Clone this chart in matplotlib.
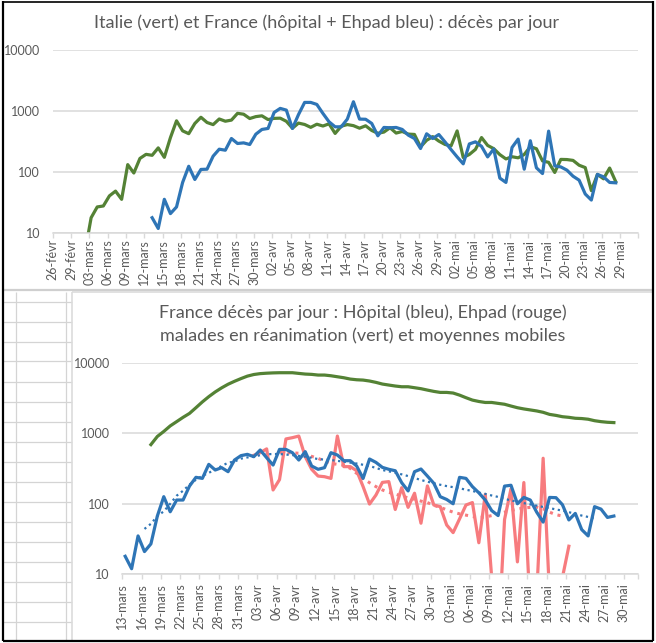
import numpy as np
import matplotlib
matplotlib.use('Agg')
import matplotlib.pyplot as plt
from matplotlib.lines import Line2D
from matplotlib.ticker import NullLocator

plt.rcParams['font.family'] = ['Lato', 'DejaVu Sans']

W, H = 656, 643

# ==== graphique du haut (jour 0 = 26-févr) ====================================
top_labels = ['26-févr', '29-févr', '03-mars', '06-mars', '09-mars', '12-mars',
              '15-mars', '18-mars', '21-mars', '24-mars', '27-mars', '30-mars',
              '02-avr', '05-avr', '08-avr', '11-avr', '14-avr', '17-avr',
              '20-avr', '23-avr', '26-avr', '29-avr', '02-mai', '05-mai',
              '08-mai', '11-mai', '14-mai', '17-mai', '20-mai', '23-mai',
              '26-mai', '29-mai']

italie_start = 5
italie = [5, 18, 27, 28, 41, 49, 36, 133, 97, 168, 196, 189, 250, 175, 368, 694,
          475, 427, 627, 793, 651, 601, 743, 683, 712, 919, 889, 756, 812, 837,
          727, 760, 766, 681, 525, 636, 604, 542, 610, 570, 619, 431, 566, 602,
          578, 525, 575, 482, 433, 454, 534, 437, 464, 420, 415, 260, 333, 382,
          323, 285, 269, 474, 174, 195, 236, 369, 274, 243, 194, 165, 179, 172,
          195, 262, 242, 153, 145, 99, 162, 161, 156, 130, 119, 50, 92, 78,
          117, 70]

france_start = 16
france_total = [18, 12, 36, 21, 27, 68, 125, 76, 111, 112, 183, 238, 229, 356,
                295, 302, 284, 419, 501, 520, 951, 1107, 1038, 520, 880, 1387,
                1387, 1286, 916, 668, 553, 553, 740, 1422, 740, 735, 628, 394,
                540, 534, 540, 501, 404, 356, 244, 425, 356, 414, 314, 235, 178,
                137, 290, 314, 265, 178, 240, 80, 68, 254, 348, 112, 327, 118,
                95, 470, 127, 122, 108, 86, 74, 44, 35, 92, 84, 68, 67]

# ==== graphique du bas (jour 0 = 13-mars) =====================================
bot_labels = ['13-mars', '16-mars', '19-mars', '22-mars', '25-mars', '28-mars',
              '31-mars', '03-avr', '06-avr', '09-avr', '12-avr', '15-avr',
              '18-avr', '21-avr', '24-avr', '27-avr', '30-avr', '03-mai',
              '06-mai', '09-mai', '12-mai', '15-mai', '18-mai', '21-mai',
              '24-mai', '27-mai', '30-mai']

hopital_start = 0
hopital = [18, 12, 35, 21, 27, 67, 126, 77, 113, 113, 178, 237, 229, 362, 301,
           325, 285, 417, 481, 502, 465, 578, 450, 354, 590, 590, 530, 417, 548,
           343, 308, 325, 530, 491, 408, 408, 343, 229, 431, 386, 328, 308, 294,
           199, 152, 285, 311, 247, 195, 126, 115, 100, 237, 229, 175, 143, 113,
           80, 68, 178, 183, 100, 123, 113, 76, 55, 123, 122, 97, 59, 73, 43, 35,
           91, 84, 64, 67]

hopital_mm_start = 3
hopital_mm = [44, 52, 67, 78, 100, 130, 153, 187, 219, 249, 274, 308, 343, 382,
              397, 436, 454, 464, 489, 504, 507, 507, 498, 490, 477, 465, 448,
              430, 423, 417, 406, 395, 383, 372, 357, 343, 322, 301, 288, 276,
              261, 247, 232, 217, 206, 195, 186, 178, 172, 166, 158, 152, 144,
              138, 131, 125, 118, 111, 107, 102, 98, 94, 90, 87, 83, 80, 76, 72,
              68, 65, 62]

ehpad_start = 20
ehpad = [486, 530, 600, 157, 220, 830, 865, 912, 465, 308, 247, 242, 229, 912,
         336, 336, 294, 175, 99, 133, 201, 206, 83, 169, 89, 141, 53, 179, 96,
         91, 50, 39, 61, 96, 104, 28, 136, 9, 1, 60, 163, 15, 200, 3, 5, 442, 5,
         1, 9, 25]

ehpad_mm_start = 24
ehpad_mm = [540, 530, 528, 520, 497, 470, 440, 403, 374, 362, 351, 318, 270, 227,
            199, 175, 157, 145, 137, 129, 121, 116, 109, 104, 95, 89, 82, 76, 72,
            69, 66, 64, 65, 68, 72, 76, 80, 84, 87, 89, 90, 85, 76, 70, 67]

rea_start = 4
rea = [690, 900, 1060, 1270, 1460, 1680, 1910, 2300, 2780, 3300, 3850, 4400,
       4950, 5450, 5950, 6450, 6800, 7000, 7100, 7170, 7210, 7210, 7210, 7050,
       6900, 6830, 6680, 6680, 6530, 6320, 6120, 5860, 5730, 5670, 5500, 5260,
       4980, 4820, 4670, 4560, 4560, 4420, 4280, 4090, 3920, 3790, 3790, 3715,
       3470, 3190, 2950, 2820, 2730, 2730, 2650, 2575, 2430, 2300, 2210, 2140,
       2070, 1980, 1850, 1790, 1715, 1680, 1630, 1615, 1580, 1505, 1460, 1430,
       1415]

BLUE = '#2e75b6'
GREEN = '#548235'
RED = '#f77b7e'
TXT = '#595959'
GRID = '#d9d9d9'
CELL = '#d4d4d4'


def fx(x):
    return x / W


def fy(y):
    return 1 - y / H


def fline(fig, xs, ys, color, lw):
    fig.add_artist(Line2D([fx(v) for v in xs], [fy(v) for v in ys],
                          color=color, lw=lw, transform=fig.transFigure,
                          solid_capstyle='butt'))


def xs_of(start, values, offset):
    return start + np.arange(len(values)) + offset


def style(ax, xmax, labels, pad):
    ax.set_yscale('log')
    ax.set_ylim(10, 10000)
    ax.set_xlim(0, xmax)
    ax.set_yticks([10, 100, 1000, 10000])
    ax.set_yticklabels(['10', '100', '1000', '10000'])
    ax.yaxis.set_minor_locator(NullLocator())
    ax.xaxis.set_minor_locator(NullLocator())
    pos = list(np.arange(len(labels)) * 3) + [xmax]
    ax.set_xticks(pos)
    ax.set_xticklabels(labels + [''], rotation=90, va='top', ha='center')
    ax.grid(axis='y', color=GRID, lw=1.1)
    ax.set_axisbelow(True)
    for s in ['top', 'right', 'left']:
        ax.spines[s].set_visible(False)
    ax.spines['bottom'].set_color(GRID)
    ax.spines['bottom'].set_linewidth(1.1)
    ax.tick_params(axis='y', length=0, pad=9, labelsize=9, labelcolor=TXT)
    ax.tick_params(axis='x', length=3.5, width=1, color=GRID, pad=pad,
                   labelsize=9, labelcolor=TXT)
    ax.patch.set_alpha(0)


fig = plt.figure(figsize=(W / 100, H / 100), dpi=100)
fig.patch.set_facecolor('white')

# cellules Excel à gauche du graphique du bas
for y in np.arange(301.5, 640, 20):
    fline(fig, [3, 72], [y, y], CELL, 0.9)
fline(fig, [15.5, 15.5], [292, 640], CELL, 0.9)
fline(fig, [65.5, 65.5], [292, 640], CELL, 0.9)

# bordures des graphiques
fline(fig, [3, 653], [290, 290], '#cfcfcf', 1.6)
fline(fig, [72, 653], [292, 292], '#dcdcdc', 1.2)
fline(fig, [72, 72], [292, 640], '#dcdcdc', 1.2)
# cadre noir
fline(fig, [3, 3], [1, 641], 'black', 1.6)
fline(fig, [652.5, 652.5], [1, 641], 'black', 1.6)
fline(fig, [3, 653], [640.5, 640.5], 'black', 1.6)
fline(fig, [3, 653], [1.5, 1.5], 'black', 1.2)

# ---- haut -----------------------------------------------------------------
ax1 = fig.add_axes([fx(52.7), fy(233.3), fx(638.3) - fx(52.7),
                    fy(50) - fy(233.3)])
style(ax1, 96, top_labels, 0.5)
ax1.plot(xs_of(italie_start, italie, 0.3), italie, color=GREEN, lw=2.3,
         solid_joinstyle='round')
ax1.plot(xs_of(france_start, france_total, 0.3), france_total, color=BLUE,
         lw=2.3, solid_joinstyle='round')
fig.text(fx(327), fy(23), 'Italie (vert) et France (hôpital + Ehpad bleu) : '
         'décès par jour', ha='center', va='center', fontsize=13, color=TXT)

# ---- bas ------------------------------------------------------------------
ax2 = fig.add_axes([fx(122.3), fy(574.3), fx(638.3) - fx(122.3),
                    fy(362.7) - fy(574.3)])
style(ax2, 80.25, bot_labels, 3)
ax2.plot(xs_of(rea_start, rea, 0.45), rea, color=GREEN, lw=2.3,
         solid_joinstyle='round')
ax2.plot(xs_of(ehpad_start, ehpad, 0.45), ehpad, color=RED, lw=2.3,
         solid_joinstyle='round')
ax2.plot(xs_of(ehpad_mm_start, ehpad_mm, 0.45), ehpad_mm, color=RED, lw=2.2,
         linestyle=(0, (1, 1.6)))
ax2.plot(xs_of(hopital_mm_start, hopital_mm, 0.45), hopital_mm, color=BLUE,
         lw=1.6, linestyle=(0, (1, 1.6)))
ax2.plot(xs_of(hopital_start, hopital, 0.45), hopital, color=BLUE, lw=2.3,
         solid_joinstyle='round')
fig.text(fx(363), fy(313), 'France décès par jour : Hôpital (bleu), Ehpad (rouge)',
         ha='center', va='center', fontsize=13, color=TXT)
fig.text(fx(363), fy(336), 'malades en réanimation (vert) et moyennes mobiles',
         ha='center', va='center', fontsize=13, color=TXT)

fig.savefig('out.png', dpi=100)
